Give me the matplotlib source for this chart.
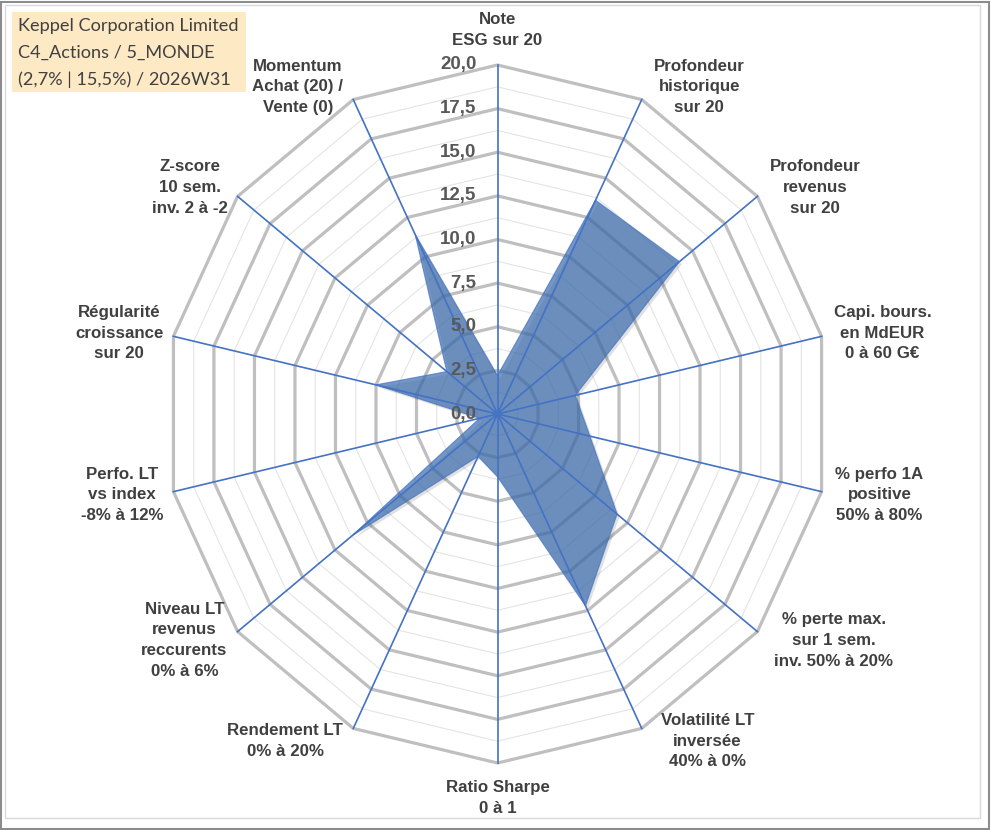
import numpy as np
import matplotlib
matplotlib.use("Agg")
import matplotlib.pyplot as plt
from matplotlib.patches import Polygon, Rectangle

# axis labels, clockwise from the top
LABELS = ["Note\nESG sur 20",
          "Profondeur\nhistorique\nsur 20",
          "Profondeur\nrevenus\nsur 20",
          "Capi. bours.\nen MdEUR\n0 à 60 G€",
          "% perfo 1A\npositive\n50% à 80%",
          "% perte max.\nsur 1 sem.\ninv. 50% à 20%",
          "Volatilité LT\ninversée\n40% à 0%",
          "Ratio Sharpe\n0 à 1",
          "Rendement LT\n0% à 20%",
          "Niveau LT\nrevenus\nreccurents\n0% à 6%",
          "Perfo. LT\nvs index\n-8% à 12%",
          "Régularité\ncroissance\nsur 20",
          "Z-score\n10 sem.\ninv. 2 à -2",
          "Momentum\nAchat (20) /\nVente (0)"]
VALUES = [2.2, 13.6, 14.0, 4.8, 5.7, 9.2, 12.2, 3.6, 2.7, 11.2, 1.1, 7.5,
          3.9, 11.4]
TICKS = [0, 2.5, 5, 7.5, 10, 12.5, 15, 17.5, 20]
TITLE = ["Keppel Corporation Limited", "C4_Actions / 5_MONDE",
         "(2,7% | 15,5%) / 2026W31"]
RMAX = 20

W, H = 991, 830
CX, CY = 497.5, 414          # centre of the radar, pixels
SX, SY = 16.62, 17.45        # pixels per unit (picture is a bit squeezed)
LABEL_COL, TICK_COL = "#404040", "#595959"
BLUE = "#4472c4"

fig = plt.figure(figsize=(W / 100, H / 100), dpi=100)
ax = fig.add_axes([0, 0, 1, 1])
ax.set_xlim(-CX / SX, (W - CX) / SX)
ax.set_ylim((CY - H) / SY, CY / SY)
ax.axis("off")

n = len(LABELS)
ang = np.arange(n) * 2 * np.pi / n
s, c = np.sin(ang), np.cos(ang)


def ring(r):
    return np.column_stack([r * s, r * c])


# grid: minor then major rings
for r in np.arange(1.25, RMAX, 2.5):
    ax.add_patch(Polygon(ring(r), closed=True, fill=False,
                         edgecolor="#e4e4e4", lw=0.8, zorder=1))
for r in TICKS[1:]:
    ax.add_patch(Polygon(ring(r), closed=True, fill=False,
                         edgecolor="#bfbfbf", lw=2.3, zorder=2))

# series (with a soft shadow like Excel)
v = np.array(VALUES)
pts = np.column_stack([v * s, v * c])
ax.add_patch(Polygon(pts + [2.5 / SX, -2.5 / SY], closed=True,
                     facecolor="#000000", alpha=0.12, lw=0, zorder=3))
ax.add_patch(Polygon(pts, closed=True, facecolor="#3e6fb0", alpha=0.72,
                     edgecolor=BLUE, lw=0.8, zorder=4))

# spokes
for si, ci in zip(s, c):
    ax.plot([0, RMAX * si], [0, RMAX * ci], color=BLUE, lw=1.2, zorder=5)

# value ticks along the top axis
for t in TICKS:
    ax.text(-21 / SX, t, f"{t:.1f}".replace(".", ","), ha="right",
            va="center", fontsize=13.5, fontweight="bold", color=TICK_COL,
            family="Liberation Sans", zorder=6)

# axis labels
for lab, si, ci in zip(LABELS, s, c):
    x, y = RMAX * si, RMAX * ci
    if abs(si) < 0.1:
        ha = "center"
        va = "bottom" if ci > 0 else "top"
        y += np.sign(ci) * 17 / SY
    elif si > 0:
        ha, va = "left", "center"
        x += (12 + 8 * max(0, -ci)) / SX
        y += 14 * ci / SY
    else:
        ha, va = "right", "center"
        x -= 10 / SX
        y += 14 * ci / SY
    ax.text(x, y, lab, ha=ha, va=va, multialignment="center",
            fontsize=12.2, fontweight="bold", color=LABEL_COL,
            family="Liberation Sans", linespacing=1.48, zorder=6)

# frames
fig.patches.append(Rectangle((1 / W, 1 / H), 1 - 3 / W, 1 - 3 / H,
                             transform=fig.transFigure, fill=False,
                             edgecolor="#8c8c8c", lw=1.5))
fig.patches.append(Rectangle((5 / W, 12 / H), 1 - 16 / W, 1 - 17 / H,
                             transform=fig.transFigure, fill=False,
                             edgecolor="#d9d9d9", lw=1))

# title box
fig.patches.append(Rectangle((12 / W, 1 - 92 / H), 234 / W, 80 / H,
                             transform=fig.transFigure, facecolor="#fde9c4",
                             edgecolor="none", zorder=0))
for i, line in enumerate(TITLE):
    fig.text(18 / W, 1 - (26 + 27 * i) / H, line, ha="left", va="center",
             fontsize=13.1, color=LABEL_COL, family="Lato")

fig.savefig("out.png", dpi=100)
